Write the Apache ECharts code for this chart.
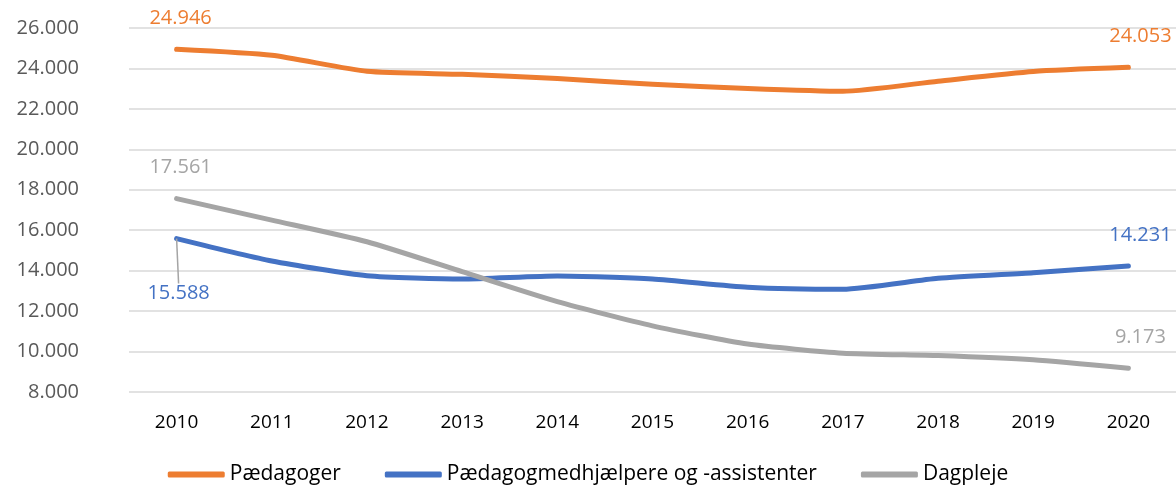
<!DOCTYPE html>
<html lang="da">
<head>
<meta charset="UTF-8">
<title>Pædagoger, medhjælpere og dagpleje 2010-2020</title>
<script src="https://cdn.jsdelivr.net/npm/echarts@6/dist/echarts.min.js"></script>
<style>
    html,body{margin:0;padding:0;background:#fff;}
    #chart{width:1176px;height:488px;}
</style>
</head>
<body>
<div id="chart"></div>
<script>
// data
var years = ['2010','2011','2012','2013','2014','2015','2016','2017','2018','2019','2020'];
var paedagoger = [24946, 24650, 23860, 23710, 23500, 23220, 23010, 22870, 23370, 23850, 24053];
var medhjaelpere = [15588, 14480, 13750, 13590, 13740, 13590, 13180, 13080, 13620, 13900, 14231];
var dagpleje = [17561, 16500, 15430, 13950, 12470, 11270, 10370, 9920, 9800, 9590, 9173];
var seriesNames = ['Pædagoger', 'Pædagogmedhjælpere og -assistenter', 'Dagpleje'];
var colors = ['#ED7D31', '#4472C4', '#A5A5A5'];

var FONT = 'Open Sans';

function fmt(v) {
    return String(Math.round(v)).replace(/\B(?=(\d{3})+(?!\d))/g, '.');
}

// only first and last point get a label
function withEndLabels(arr, color, leaderFirst) {
    return arr.map(function (v, i) {
        var show = (i === 0 || i === arr.length - 1);
        var item = {
            value: v,
            label: {
                show: show,
                position: 'top',
                distance: 21,
                color: color,
                fontFamily: FONT,
                fontSize: 20,
                formatter: function (p) { return fmt(p.value); }
            },
            labelLine: {show: false}
        };
        if (leaderFirst && i === 0) {
            item.labelLine = {show: true, smooth: false, lineStyle: {color: '#A5A5A5', width: 1.5}};
        }
        return item;
    });
}

function makeSeries(name, arr, color, leaderFirst) {
    return {
        name: name,
        type: 'line',
        data: withEndLabels(arr, color, leaderFirst),
        smooth: 0.2,
        symbol: 'circle',
        symbolSize: 0.1,
        showSymbol: true,
        lineStyle: {width: 5, color: color, cap: 'round', join: 'round'},
        itemStyle: {color: color},
        emphasis: {disabled: true}
    };
}

var myChart = echarts.init(document.getElementById('chart'));
var option = {
    animation: false,
    color: colors,
    grid: {left: 129, top: 28, width: 1059, bottom: 96, containLabel: false},
    legend: {
        data: seriesNames,
        left: 'center',
        top: 459,
        icon: 'roundRect',
        itemGap: 44,
        itemWidth: 57,
        itemHeight: 6,
        textStyle: {fontFamily: FONT, fontSize: 21, color: '#000'}
    },
    xAxis: {
        type: 'category',
        data: years,
        boundaryGap: true,
        axisLine: {show: false},
        axisTick: {show: false},
        axisLabel: {fontFamily: FONT, fontSize: 19, color: '#000', margin: 21}
    },
    yAxis: {
        type: 'value',
        min: 8000,
        max: 26000,
        interval: 2000,
        axisLine: {show: false},
        axisTick: {show: false},
        splitLine: {lineStyle: {color: '#D9D9D9', width: 1.5}},
        axisLabel: {
            fontFamily: FONT, fontSize: 20, color: '#595959', margin: 50,
            formatter: function (v) { return fmt(v); }
        }
    },
    series: [
        makeSeries(seriesNames[0], paedagoger, colors[0], false),
        makeSeries(seriesNames[1], medhjaelpere, colors[1], true),
        makeSeries(seriesNames[2], dagpleje, colors[2], false)
    ],
    labelLayout: function (params) {
        // first blue label sits below the line with a leader line
        if (params.seriesIndex === 1 && params.dataIndex === 0) {
            return {dy: 86, dx: 2};
        }
        if (params.dataIndex === years.length - 1) {
            return {dx: 12};
        }
        return {dx: 4};
    }
};
myChart.setOption(option);
</script>
</body>
</html>
